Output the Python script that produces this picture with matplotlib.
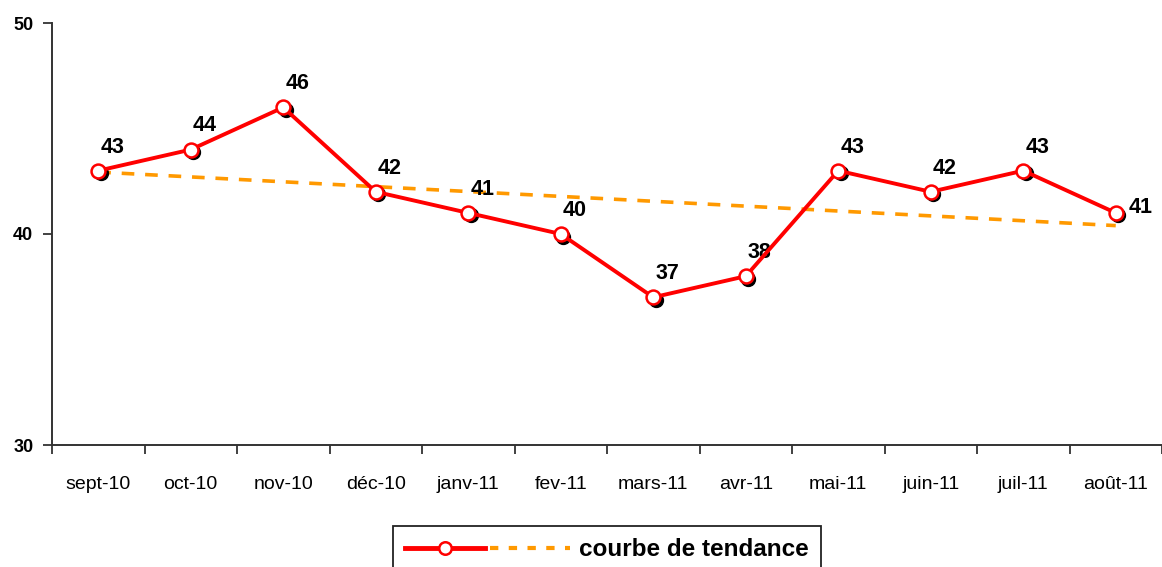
import matplotlib.pyplot as plt
import matplotlib.transforms as mtransforms
from matplotlib.lines import Line2D
from matplotlib.legend_handler import HandlerTuple
import numpy as np

plt.rcParams['font.family'] = ['Liberation Sans', 'DejaVu Sans']

months = ['sept-10', 'oct-10', 'nov-10', 'déc-10', 'janv-11', 'fev-11',
          'mars-11', 'avr-11', 'mai-11', 'juin-11', 'juil-11', 'août-11']
values = [43, 44, 46, 42, 41, 40, 37, 38, 43, 42, 43, 41]
yticks = [30, 40, 50]

x = np.arange(len(months))
# linear trend like excel's "courbe de tendance"
slope, intercept = np.polyfit(x, values, 1)
trend = slope * x + intercept

fig = plt.figure(figsize=(11.62, 5.67), dpi=100)
ax = fig.add_axes([52 / 1162, 122 / 567, 1 - 52 / 1162, 422 / 567])

ax.plot(x, trend, color='#FF9900', lw=2.6, ls=(0, (3.5, 3)), zorder=2)

# shadow of the markers
shadow = ax.transData + mtransforms.ScaledTranslation(2.5 / 100, -2.5 / 100, fig.dpi_scale_trans)
ax.plot(x, values, ls='none', marker='o', ms=10, mfc='black', mec='black',
        transform=shadow, zorder=3)
ax.plot(x, values, color='#FF0000', lw=2.8, marker='o', ms=10, mfc='white',
        mec='#FF0000', mew=1.8, zorder=4)

for i, v in enumerate(values):
    if i == len(values) - 1:
        ax.annotate(str(v), (i, v), xytext=(18, 4), textcoords='offset points',
                    ha='center', va='center', fontsize=15.5, fontweight='bold')
    else:
        ax.annotate(str(v), (i, v), xytext=(10, 17), textcoords='offset points',
                    ha='center', va='center', fontsize=15.5, fontweight='bold')

ax.set_xlim(-0.5, len(months) - 0.5)
ax.set_ylim(30, 50)
ax.set_yticks(yticks)
ax.set_yticklabels([str(t) for t in yticks], fontsize=13, fontweight='bold')
ax.set_xticks(x)
ax.set_xticklabels(months, fontsize=14)
ax.set_xticks(np.arange(-0.5, len(months)), minor=True)
ax.tick_params(axis='x', which='major', length=0, pad=22)
ax.tick_params(axis='x', which='minor', length=6.5, width=1.3, color='#333333', direction='out')
ax.tick_params(axis='y', length=6.5, width=1.3, color='#333333', direction='out', pad=7)

for s in ['top', 'right']:
    ax.spines[s].set_visible(False)
for s in ['left', 'bottom']:
    ax.spines[s].set_linewidth(1.4)
    ax.spines[s].set_color('#333333')

h_red = Line2D([], [], color='#FF0000', lw=3.5, marker='o', ms=9, mfc='white', mec='#FF0000', mew=1.8)
h_trend = Line2D([], [], color='#FF9900', lw=3, ls=(0, (2, 2.5)))
leg = fig.legend([(h_red, h_trend)], ['courbe de tendance'],
                 handler_map={tuple: HandlerTuple(ndivide=None, pad=0.2)},
                 loc='upper left', bbox_to_anchor=(393 / 1162, 1 - 526 / 567),
                 handlelength=6.8, fancybox=False, edgecolor='#222222', framealpha=1,
                 prop={'size': 17.5, 'weight': 'bold'}, borderpad=0.5, handletextpad=0.35,
                 borderaxespad=0)
leg.get_frame().set_linewidth(1.3)

fig.savefig('out.png', dpi=100)
